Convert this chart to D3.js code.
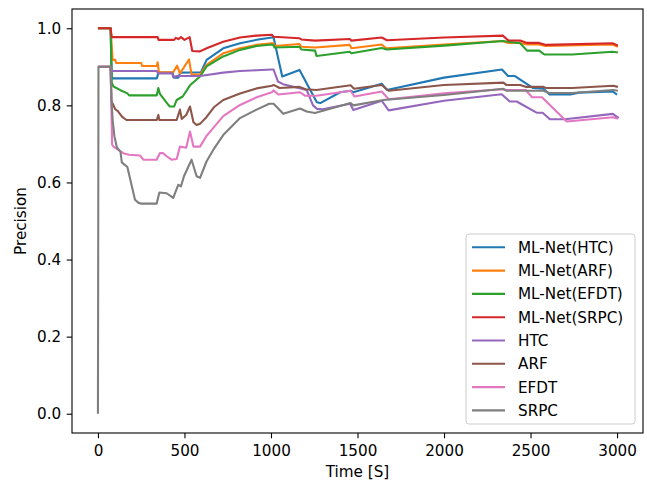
<!DOCTYPE html>
<html>
<head>
<meta charset="utf-8">
<script src="https://cdn.jsdelivr.net/npm/d3@7"></script>
<style>
  body { margin: 0; background: #fff; }
  svg { display: block; font-family: "DejaVu Sans", sans-serif; }
</style>
</head>
<body>
<svg id="chart"></svg>
<script>
// series as [time, precision]
const htcNet = [[0,1.0],[73,1.0],[80,0.870],[340,0.870],[350,0.885],[430,0.885],[440,0.872],[465,0.872],[475,0.885],[595,0.886],[628,0.918],[724,0.948],[821,0.961],[917,0.970],[1005,0.976],[1015,0.976],[1065,0.875],[1165,0.892],[1265,0.808],[1285,0.806],[1400,0.834],[1460,0.838],[1476,0.834],[1640,0.856],[1670,0.840],[2000,0.872],[2335,0.893],[2370,0.876],[2410,0.876],[2515,0.845],[2575,0.843],[2610,0.828],[2730,0.828],[2780,0.833],[2975,0.836],[3000,0.828]];
const arfNet = [[0,1.0],[73,1.0],[85,0.918],[100,0.918],[105,0.910],[250,0.910],[255,0.902],[340,0.902],[345,0.912],[352,0.886],[435,0.886],[457,0.903],[474,0.883],[526,0.919],[541,0.880],[590,0.880],[628,0.905],[724,0.935],[821,0.948],[917,0.957],[1005,0.961],[1015,0.961],[1020,0.954],[1165,0.959],[1175,0.952],[1255,0.950],[1455,0.957],[1465,0.948],[1640,0.958],[1665,0.948],[2000,0.958],[2340,0.967],[2370,0.962],[2440,0.962],[2480,0.958],[2550,0.958],[2585,0.954],[2975,0.958],[3005,0.952]];
const efdtNet = [[0,1.0],[73,1.0],[80,0.858],[90,0.849],[127,0.840],[170,0.831],[180,0.826],[340,0.826],[349,0.845],[358,0.830],[400,0.805],[415,0.797],[440,0.797],[455,0.814],[490,0.823],[532,0.852],[552,0.860],[590,0.875],[628,0.901],[724,0.927],[821,0.944],[917,0.954],[1005,0.958],[1015,0.956],[1020,0.950],[1165,0.952],[1175,0.945],[1255,0.942],[1263,0.928],[1455,0.939],[1465,0.935],[1640,0.949],[1670,0.945],[2000,0.955],[2340,0.967],[2440,0.961],[2480,0.942],[2550,0.942],[2580,0.932],[2740,0.932],[2975,0.939],[3005,0.937]];
const srpcNet = [[0,1.0],[73,1.0],[80,0.977],[345,0.977],[350,0.970],[440,0.970],[450,0.975],[465,0.972],[480,0.977],[500,0.970],[530,0.977],[545,0.941],[590,0.940],[628,0.948],[724,0.965],[821,0.976],[917,0.981],[1005,0.983],[1015,0.978],[1165,0.974],[1175,0.971],[1255,0.968],[1455,0.972],[1465,0.968],[1640,0.976],[1670,0.969],[2000,0.976],[2340,0.981],[2370,0.969],[2440,0.968],[2480,0.962],[2550,0.962],[2585,0.957],[2975,0.961],[3005,0.955]];
const htc = [[0,0.9],[73,0.9],[80,0.889],[340,0.889],[349,0.883],[430,0.883],[435,0.873],[455,0.876],[590,0.876],[724,0.885],[821,0.889],[917,0.891],[1005,0.893],[1015,0.893],[1040,0.862],[1070,0.855],[1206,0.840],[1243,0.800],[1265,0.791],[1300,0.790],[1457,0.804],[1476,0.788],[1640,0.812],[1680,0.787],[2000,0.812],[2333,0.829],[2380,0.810],[2420,0.810],[2535,0.781],[2570,0.781],[2612,0.764],[2700,0.764],[2976,0.778],[3010,0.767]];
const arf = [[0,0.9],[73,0.9],[78,0.810],[90,0.800],[100,0.790],[115,0.785],[140,0.770],[165,0.762],[340,0.762],[349,0.775],[355,0.762],[455,0.762],[474,0.789],[484,0.765],[510,0.775],[532,0.797],[552,0.756],[570,0.749],[590,0.752],[628,0.770],[670,0.795],[724,0.814],[821,0.831],[917,0.844],[1005,0.851],[1015,0.853],[1050,0.845],[1165,0.848],[1200,0.842],[1263,0.840],[1460,0.852],[1480,0.843],[1640,0.853],[1680,0.838],[2000,0.853],[2343,0.859],[2360,0.853],[2440,0.853],[2472,0.848],[2575,0.848],[2590,0.845],[2740,0.845],[2977,0.851],[3005,0.848]];
const efdt = [[0,0.9],[73,0.9],[82,0.698],[90,0.693],[146,0.676],[180,0.672],[243,0.670],[262,0.659],[339,0.659],[358,0.676],[377,0.676],[397,0.668],[425,0.659],[455,0.661],[474,0.693],[510,0.690],[532,0.732],[552,0.693],[590,0.693],[628,0.721],[724,0.772],[821,0.801],[917,0.821],[1005,0.834],[1015,0.839],[1042,0.828],[1168,0.834],[1196,0.825],[1263,0.825],[1460,0.838],[1482,0.823],[1640,0.836],[1680,0.816],[2000,0.831],[2333,0.842],[2360,0.840],[2472,0.840],[2509,0.821],[2566,0.821],[2709,0.758],[2977,0.769],[3005,0.765]];
const srpc = [[0,0.0],[3,0.9],[73,0.9],[78,0.814],[85,0.762],[95,0.720],[110,0.690],[130,0.680],[138,0.652],[170,0.640],[214,0.555],[235,0.547],[252,0.545],[339,0.545],[355,0.574],[397,0.572],[435,0.560],[464,0.594],[480,0.590],[497,0.616],[541,0.659],[570,0.616],[590,0.612],[628,0.655],[667,0.685],[724,0.723],[821,0.767],[917,0.789],[990,0.804],[1015,0.804],[1071,0.778],[1168,0.792],[1206,0.784],[1254,0.780],[1460,0.806],[1476,0.800],[1650,0.814],[2000,0.827],[2343,0.843],[2360,0.838],[2575,0.838],[2607,0.832],[2740,0.832],[2977,0.840],[3005,0.838]];

const seriesNames = ["ML-Net(HTC)", "ML-Net(ARF)", "ML-Net(EFDT)", "ML-Net(SRPC)", "HTC", "ARF", "EFDT", "SRPC"];
const seriesData = [htcNet, arfNet, efdtNet, srpcNet, htc, arf, efdt, srpc];
const colors = ["#1f77b4", "#ff7f0e", "#2ca02c", "#d62728", "#9467bd", "#8c564b", "#e377c2", "#7f7f7f"];
const xTicks = [0, 500, 1000, 1500, 2000, 2500, 3000];
const yTicks = [0.0, 0.2, 0.4, 0.6, 0.8, 1.0];

const W = 647, H = 484;
const margin = { top: 9, right: 4, bottom: 51, left: 72 };
const fontSize = 15.2;

const svg = d3.select("#chart").attr("width", W).attr("height", H);

const x = d3.scaleLinear().domain([-150, 3150]).range([margin.left, W - margin.right]);
const y = d3.scaleLinear().domain([-0.05, 1.05]).range([H - margin.bottom, margin.top]);

// lines
const line = d3.line().x(d => x(d[0])).y(d => y(d[1]));
const plot = svg.append("g");
seriesData.forEach((s, i) => {
  plot.append("path")
    .datum(s)
    .attr("fill", "none")
    .attr("stroke", colors[i])
    .attr("stroke-width", 2.1)
    .attr("stroke-linejoin", "round")
    .attr("d", line);
});

// axes
const xAxis = svg.append("g")
  .attr("transform", `translate(0,${H - margin.bottom})`)
  .call(d3.axisBottom(x).tickValues(xTicks).tickSize(5.3).tickPadding(7).tickFormat(d3.format("d")));
const yAxis = svg.append("g")
  .attr("transform", `translate(${margin.left},0)`)
  .call(d3.axisLeft(y).tickValues(yTicks).tickSize(5.3).tickPadding(5.5).tickFormat(d3.format(".1f")));

[xAxis, yAxis].forEach(a => {
  a.select(".domain").remove();
  a.selectAll(".tick line").attr("stroke", "#000").attr("stroke-width", 1.1);
  a.selectAll(".tick text").attr("fill", "#000").style("font-size", fontSize + "px").style("font-family", "DejaVu Sans");
});

// frame
svg.append("rect")
  .attr("x", margin.left).attr("y", margin.top)
  .attr("width", W - margin.right - margin.left)
  .attr("height", H - margin.bottom - margin.top)
  .attr("fill", "none").attr("stroke", "#000").attr("stroke-width", 1.1);

// axis labels
svg.append("text")
  .attr("x", (margin.left + W - margin.right) / 2)
  .attr("y", 477)
  .attr("text-anchor", "middle")
  .style("font-size", fontSize + "px")
  .text("Time [S]");

svg.append("text")
  .attr("transform", `translate(26,${(margin.top + H - margin.bottom) / 2}) rotate(-90)`)
  .attr("text-anchor", "middle")
  .style("font-size", fontSize + "px")
  .text("Precision");

// legend
const legend = svg.append("g").attr("transform", "translate(466,234)");
legend.append("rect")
  .attr("width", 169).attr("height", 190).attr("rx", 3)
  .attr("fill", "#fff").attr("fill-opacity", 0.8)
  .attr("stroke", "#cccccc").attr("stroke-width", 1);
seriesNames.forEach((name, i) => {
  const g = legend.append("g").attr("transform", `translate(0,${13.3 + i * 23.3})`);
  g.append("line").attr("x1", 6).attr("x2", 39).attr("y1", 0).attr("y2", 0)
    .attr("stroke", colors[i]).attr("stroke-width", 2.1);
  g.append("text").attr("x", 52).attr("y", 0).attr("dy", "0.36em")
    .style("font-size", fontSize + "px").text(name);
});
</script>
</body>
</html>
